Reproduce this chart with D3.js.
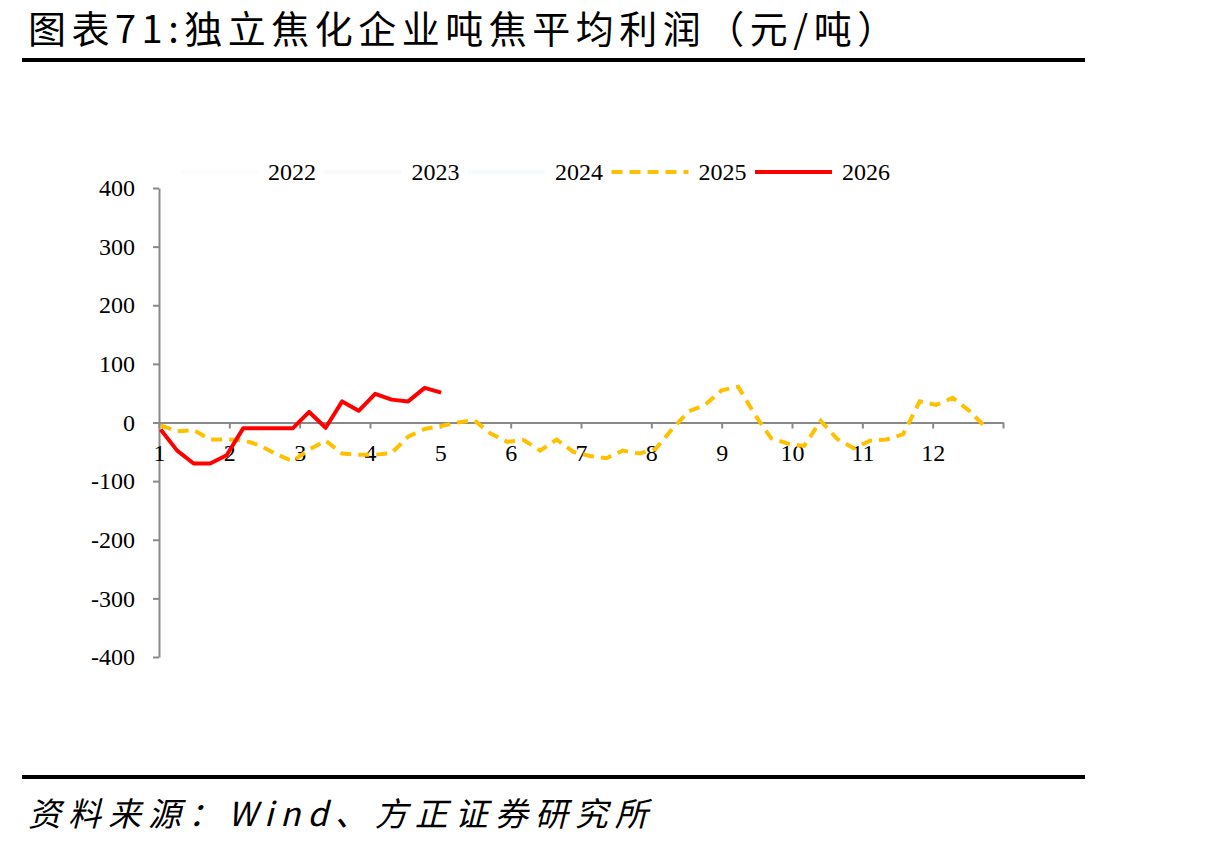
<!DOCTYPE html>
<html>
<head>
<meta charset="utf-8">
<script src="https://cdn.jsdelivr.net/npm/d3@7/dist/d3.min.js"></script>
<style>
  body { margin: 0; background: #fff; }
</style>
</head>
<body>
<script>
// 独立焦化企业吨焦平均利润（元/吨），周度
var years = ['2022', '2023', '2024', '2025', '2026'];
var monthLabels = ['1', '2', '3', '4', '5', '6', '7', '8', '9', '10', '11', '12'];
var yTicks = [-400, -300, -200, -100, 0, 100, 200, 300, 400];

// 2022-2024 series are rendered near-invisible in the source chart
var profit2025 = [-5, -15, -13, -29, -29, -30, -39, -54, -66, -46, -31, -53, -55, -55, -52, -24, -11, -6, 0, 4,
  -19, -33, -30, -48, -29, -50, -57, -61, -48, -53, -45, -11, 19, 30, 55, 61, 14, -27, -36, -40,
  3, -28, -44, -31, -29, -20, 36, 30, 42, 20, -8];
var profit2026 = [-12, -48, -70, -70, -56, -10, -10, -10, -10, 18, -9, 36, 20, 49, 39, 36, 59, 51];

var svg = d3.select('body').append('svg')
  .attr('width', 1223)
  .attr('height', 848);

var weeksOnAxis = 51.15; // axis spans one year of weekly slots

var x = d3.scaleLinear().domain([0, weeksOnAxis]).range([159, 1003]);
var y = d3.scaleLinear().domain([-400, 400]).range([657, 188]);

// title
svg.append('text')
  .attr('x', 28)
  .attr('y', 43)
  .style('font-family', '"Noto Sans CJK SC", sans-serif')
  .style('font-size', '38px')
  .style('letter-spacing', '5.5px')
  .attr('fill', '#000')
  .text('图表71:独立焦化企业吨焦平均利润（元/吨）');

svg.append('line')
  .attr('x1', 22).attr('x2', 1085)
  .attr('y1', 60).attr('y2', 60)
  .attr('stroke', '#000').attr('stroke-width', 4);

// y axis
var yAxis = svg.append('g')
  .attr('transform', 'translate(' + x(0) + ',0)')
  .call(d3.axisLeft(y).tickValues(yTicks).tickSize(6).tickSizeOuter(0).tickPadding(18)
    .tickFormat(function (d) { return String(d); }));

// x axis at zero
var monthTicks = d3.range(0, 13).map(function (m) { return m * weeksOnAxis / 12; });
var xAxis = svg.append('g')
  .attr('transform', 'translate(0,' + y(0) + ')')
  .call(d3.axisBottom(x).tickValues(monthTicks).tickSize(6).tickSizeOuter(0).tickPadding(15)
    .tickFormat(function (d, i) { return i < 12 ? monthLabels[i] : ''; }));

[yAxis, xAxis].forEach(function (a) {
  a.select('.domain').attr('stroke', '#898989').attr('stroke-width', 2);
  a.selectAll('.tick line').attr('stroke', '#898989').attr('stroke-width', 2);
  a.selectAll('.tick text')
    .attr('fill', '#000')
    .style('font-family', '"Liberation Serif", "Times New Roman", serif')
    .style('font-size', '24px');
});

// lines
var line = d3.line()
  .x(function (d, i) { return x(i + 0.1); })
  .y(function (d) { return y(d); });

svg.append('path')
  .datum(profit2025)
  .attr('d', line)
  .attr('fill', 'none')
  .attr('stroke', '#ffc000')
  .attr('stroke-width', 4)
  .attr('stroke-dasharray', '11,7');

svg.append('path')
  .datum(profit2026)
  .attr('d', line)
  .attr('fill', 'none')
  .attr('stroke', '#ff0000')
  .attr('stroke-width', 4)
  .attr('stroke-linejoin', 'round');

// legend
var legendStyles = {
  '2022': { stroke: '#c8c8c8', dash: null, opacity: 0.06 },
  '2023': { stroke: '#7f7f7f', dash: null, opacity: 0.04 },
  '2024': { stroke: '#00b0f0', dash: null, opacity: 0.04 },
  '2025': { stroke: '#ffc000', dash: '11,7', opacity: 1 },
  '2026': { stroke: '#ff0000', dash: null, opacity: 1 }
};

var legend = svg.append('g').attr('transform', 'translate(181,172)');
years.forEach(function (yr, k) {
  var s = legendStyles[yr];
  var gx = k * 143.5;
  legend.append('line')
    .attr('x1', gx).attr('x2', gx + 77)
    .attr('y1', 0).attr('y2', 0)
    .attr('stroke', s.stroke)
    .attr('stroke-width', 4)
    .attr('stroke-opacity', s.opacity)
    .attr('stroke-dasharray', s.dash);
  legend.append('text')
    .attr('x', gx + 87)
    .attr('y', 8)
    .style('font-family', '"Liberation Serif", "Times New Roman", serif')
    .style('font-size', '24px')
    .attr('fill', '#000')
    .text(yr);
});

// source
svg.append('line')
  .attr('x1', 22).attr('x2', 1085)
  .attr('y1', 777).attr('y2', 777)
  .attr('stroke', '#000').attr('stroke-width', 4);

svg.append('text')
  .attr('x', 28)
  .attr('y', 826)
  .style('font-family', '"Noto Sans CJK SC", sans-serif')
  .style('font-size', '33px')
  .style('font-style', 'italic')
  .style('letter-spacing', '7px')
  .attr('fill', '#000')
  .text('资料来源：Wind、方正证券研究所');
</script>
</body>
</html>
